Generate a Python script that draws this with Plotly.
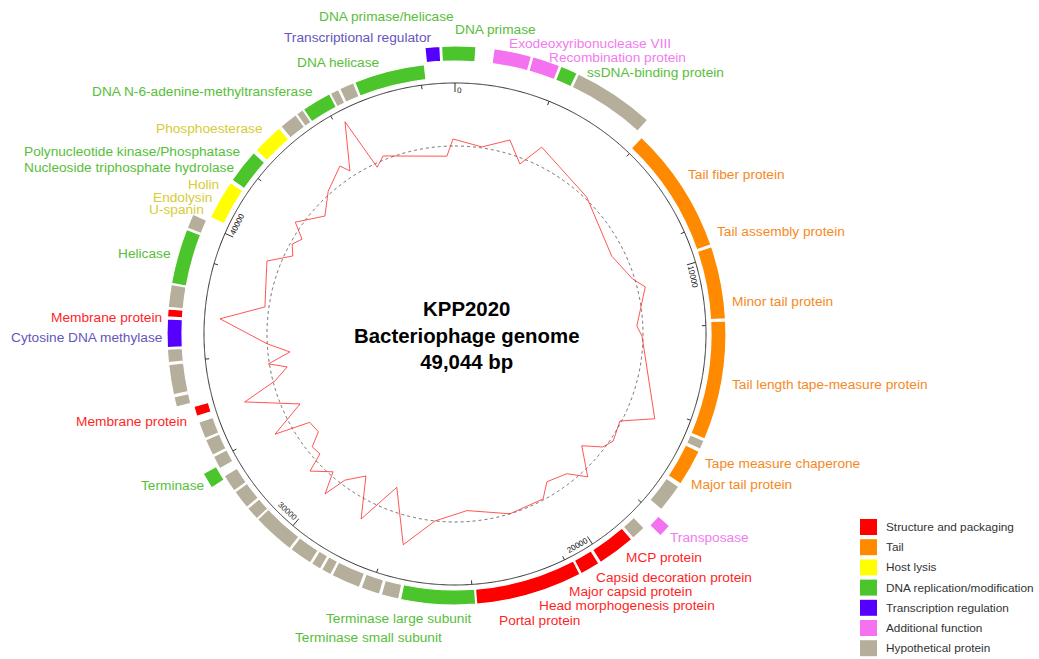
import math
import numpy as np
import plotly.graph_objects as go

# ---------------- data ----------------
GENOME = 49044

gene_start = [48680, 48226, 46087, 45611, 45311, 44412, 44167, 43594, 42600, 41497,
              40257, 39726, 38160, 37505, 37246, 36415, 36006, 35121, 34780, 34372,
              33691, 33159, 32723, 32383, 31960, 31361, 30925, 29644, 28922, 28582,
              28241, 27342, 26729, 26157, 23923, 20775, 20149, 18977, 18487, 17955,
              16933, 15762, 15422, 11880, 9700, 5926, 3460, 2943, 2139, 1063]
gene_end = [570, 48635, 48158, 46047, 45570, 45284, 44385, 44139, 43526, 42505,
            41415, 40134, 39685, 38132, 37464, 37192, 36374, 35952, 35066, 34671,
            34195, 33650, 33118, 32832, 32478, 31920, 31320, 30898, 29603, 28881,
            28541, 28200, 27287, 26674, 26102, 23896, 20735, 20094, 18923, 18323,
            17765, 16838, 15694, 15367, 11825, 9645, 5722, 3419, 2902, 2098]
gene_track = ["out", "out", "in", "in", "in", "in", "in", "in", "in", "in",
              "in", "out", "out", "out", "out", "out", "out", "out", "out", "in",
              "in", "in", "in", "out", "in", "in", "in", "in", "in", "in",
              "in", "in", "in", "in", "in", "in", "in", "in", "in", "out",
              "in", "in", "in", "in", "in", "in", "out", "out", "out", "out"]
gene_cat = ["D", "R", "D", "P", "P", "D", "P", "P", "H", "D",
            "H", "P", "D", "P", "S", "R", "P", "P", "P", "S",
            "P", "P", "P", "D", "P", "P", "P", "P", "P", "P",
            "P", "P", "P", "P", "D", "S", "S", "S", "P", "A",
            "P", "T", "P", "T", "T", "T", "P", "D", "A", "A"]

cat_keys = ["S", "T", "H", "D", "R", "A", "P"]
cat_names = ["Structure and packaging", "Tail", "Host lysis", "DNA replication/modification",
             "Transcription regulation", "Additional function", "Hypothetical protein"]
cat_colors = ["#FF0000", "#FF8A00", "#FFFF00", "#4CC42C", "#5500FF", "#F472F0", "#B5AE9A"]

# GC content deviation (red line) read around the genome
gc_pos = [1117, 2152, 2847, 3392, 5981, 8664, 9918, 10367, 11920, 12343,
          15394, 16048, 16906, 17356, 17901, 18678, 19250, 20176, 20694, 22206,
          23991, 25353, 26402, 27355, 28187, 28895, 29563, 29849, 30176, 30870,
          31116, 31565, 31933, 32519, 32818, 33473, 34344, 34794, 35271, 35543,
          35938, 36374, 37287, 37886, 39671, 40284, 40720, 41115, 41551, 42532,
          43377, 44357, 44576, 45311, 45638, 46047, 48690, 48963]
gc_dev = [1, 13.6, -6, 18, 2, -13, -2, 8, -6, -1,
          29, -1.5, 3, -2, -19, 7, -9, -14, -1, 0,
          -11, 0, 29, -24, 19.5, -20.4, -5, 18, -4, 11.5,
          -7.4, -6, -20, -18, 18, -18, 33, -2, -17, 1,
          -22, 0, 47.5, 4, 13.7, -8, -2, -8, 7, -12.4,
          3, 15.6, 6, 51, -4, 4, -10, 7]

tick_major = [0, 10000, 20000, 30000, 40000]
tick_minor_step = 3000

labels = [
    # text, x(px), y(px), anchor, colour
    ("DNA primase/helicase", 455, 17, "right", "#58BE3A"),
    ("Transcriptional regulator", 433, 37, "right", "#6655BB"),
    ("DNA helicase", 380, 62, "right", "#58BE3A"),
    ("DNA N-6-adenine-methyltransferase", 314, 91, "right", "#58BE3A"),
    ("Phosphoesterase", 264, 128, "right", "#D8CC35"),
    ("Polynucleotide kinase/Phosphatase", 241, 152, "right", "#58BE3A"),
    ("Nucleoside triphosphate hydrolase", 235, 168, "right", "#58BE3A"),
    ("Holin", 220, 184, "right", "#D8CC35"),
    ("Endolysin", 213, 197, "right", "#D8CC35"),
    ("U-spanin", 205, 209, "right", "#D8CC35"),
    ("Helicase", 172, 253, "right", "#58BE3A"),
    ("Membrane protein", 163, 317, "right", "#FF1F1F"),
    ("Cytosine DNA methylase", 163, 337, "right", "#6655BB"),
    ("Membrane protein", 188, 421, "right", "#FF1F1F"),
    ("Terminase", 205, 485, "right", "#58BE3A"),
    ("Terminase large subunit", 325, 618, "left", "#58BE3A"),
    ("Terminase small subunit", 294, 637, "left", "#58BE3A"),
    ("DNA primase", 454, 30, "left", "#58BE3A"),
    ("Exodeoxyribonuclease VIII", 508, 43, "left", "#F27BF0"),
    ("Recombination protein", 548, 57, "left", "#F27BF0"),
    ("ssDNA-binding protein", 586, 73, "left", "#58BE3A"),
    ("Tail fiber protein", 687, 175, "left", "#F5891E"),
    ("Tail assembly protein", 716, 231, "left", "#F5891E"),
    ("Minor tail protein", 731, 302, "left", "#F5891E"),
    ("Tail length tape-measure protein", 731, 384, "left", "#F5891E"),
    ("Tape measure chaperone", 704, 463, "left", "#F5891E"),
    ("Major tail protein", 690, 484, "left", "#F5891E"),
    ("Transposase", 669, 537, "left", "#F27BF0"),
    ("MCP protein", 625, 557, "left", "#FF1F1F"),
    ("Capsid decoration protein", 595, 577, "left", "#FF1F1F"),
    ("Major capsid protein", 568, 591, "left", "#FF1F1F"),
    ("Head morphogenesis protein", 538, 605, "left", "#FF1F1F"),
    ("Portal protein", 498, 620, "left", "#FF1F1F"),
]

# ---------------- layout constants ----------------
W, H = 1039, 659
CX, CY = 455, 334
RMAX = 300
TRACK_BASE = {"in": 256, "out": 273}
TRACK_H = 15
R_BACKBONE = 251
R_GC = 188
FONT = "Liberation Sans, Arial, sans-serif"


def deg(bp):
    return bp * 360.0 / GENOME


def px(x, y):
    return x / W, 1 - y / H


fig = go.Figure()

# backbone circle
circ = np.linspace(0, 360, 1441)
fig.add_trace(go.Scatterpolar(theta=circ, r=[R_BACKBONE] * len(circ), mode="lines",
                              line=dict(color="#333333", width=1), hoverinfo="skip"))
# GC baseline (dotted)
fig.add_trace(go.Scatterpolar(theta=circ, r=[R_GC] * len(circ), mode="lines",
                              line=dict(color="#666666", width=1, dash="dot"), hoverinfo="skip"))

# ticks
tt, tr = [], []
for t in range(0, GENOME, tick_minor_step):
    if t in tick_major:
        continue
    tt += [deg(t), deg(t), None]
    tr += [R_BACKBONE, R_BACKBONE - 4, None]
for t in tick_major:
    tt += [deg(t), deg(t), None]
    tr += [R_BACKBONE, R_BACKBONE - 9, None]
fig.add_trace(go.Scatterpolar(theta=tt, r=tr, mode="lines",
                              line=dict(color="#333333", width=1), hoverinfo="skip"))

# GC line
gth = [deg(p) for p in gc_pos] + [deg(gc_pos[0]) + 360]
grr = [R_GC + v for v in gc_dev] + [R_GC + gc_dev[0]]
fig.add_trace(go.Scatterpolar(theta=gth, r=grr, mode="lines",
                              line=dict(color="rgba(255,20,20,0.8)", width=0.9), hoverinfo="skip"))

# genes
for key, name, col in zip(cat_keys, cat_names, cat_colors):
    th, wd, base = [], [], []
    for s, e, t, c in zip(gene_start, gene_end, gene_track, gene_cat):
        if c != key:
            continue
        length = (e - s) % GENOME
        mid = (s + length / 2.0) % GENOME
        th.append(deg(mid))
        wd.append(deg(length))
        base.append(TRACK_BASE[t])
    fig.add_trace(go.Barpolar(theta=th, width=wd, base=base, r=[TRACK_H] * len(th),
                              marker=dict(color=col, line=dict(color="white", width=1.2)),
                              name=name, hoverinfo="name"))

annotations = []

# tick labels (inside the backbone, reading clockwise from the tick)
R_LAB = 244
for t in tick_major:
    lab = str(t)
    halfw = 0.5 * len(lab) * 8 * 0.556 + 2
    thc = deg(t) + math.degrees(halfw / R_LAB)
    x = CX + R_LAB * math.sin(math.radians(thc))
    y = CY - R_LAB * math.cos(math.radians(thc))
    a = thc % 360
    ang = a if (a <= 90 or a >= 270) else a - 180
    if ang > 180:
        ang -= 360
    xp, yp = px(x, y)
    annotations.append(dict(x=xp, y=yp, xref="paper", yref="paper", text=lab, showarrow=False,
                            textangle=ang, xanchor="center", yanchor="middle",
                            font=dict(family=FONT, size=8, color="#111111")))

# gene labels
for text, x, y, anc, col in labels:
    xp, yp = px(x, y)
    annotations.append(dict(x=xp, y=yp, xref="paper", yref="paper", text=text, showarrow=False,
                            xanchor=anc, yanchor="middle", borderpad=0,
                            font=dict(family=FONT, size=13.7, color=col)))

# centre title
xp, yp = px(466, 335)
annotations.append(dict(x=xp, y=yp, xref="paper", yref="paper",
                        text="<b>KPP2020</b><br><b>Bacteriophage genome</b><br><b>49,044 bp</b>",
                        showarrow=False, xanchor="center", yanchor="middle", align="center",
                        font=dict(family=FONT, size=20.4, color="#000000")))

# legend (manual)
shapes = []
for i, (name, col) in enumerate(zip(cat_names, cat_colors)):
    yc = 527 + i * 20.2
    x0, y0 = px(860, yc - 8)
    x1, y1 = px(877, yc + 8)
    shapes.append(dict(type="rect", xref="paper", yref="paper", x0=x0, x1=x1, y0=y1, y1=y0,
                       fillcolor=col, line=dict(width=0)))
    xt, yt = px(884, yc)
    annotations.append(dict(x=xt, y=yt, xref="paper", yref="paper", text=name, showarrow=False,
                            xanchor="left", yanchor="middle",
                            font=dict(family=FONT, size=11.8, color="#333333")))

fig.update_layout(
    width=W, height=H,
    margin=dict(l=0, r=0, t=0, b=0),
    paper_bgcolor="white",
    showlegend=False,
    polar=dict(
        domain=dict(x=[(CX - RMAX) / W, (CX + RMAX) / W],
                    y=[1 - (CY + RMAX) / H, 1 - (CY - RMAX) / H]),
        bgcolor="white",
        radialaxis=dict(visible=False, range=[0, RMAX]),
        angularaxis=dict(visible=False, rotation=90, direction="clockwise"),
    ),
    annotations=annotations,
    shapes=shapes,
)

fig.write_html("out.html", config={"displayModeBar": False},
               post_script="document.body.style.margin='0';document.body.style.overflow='hidden';")
